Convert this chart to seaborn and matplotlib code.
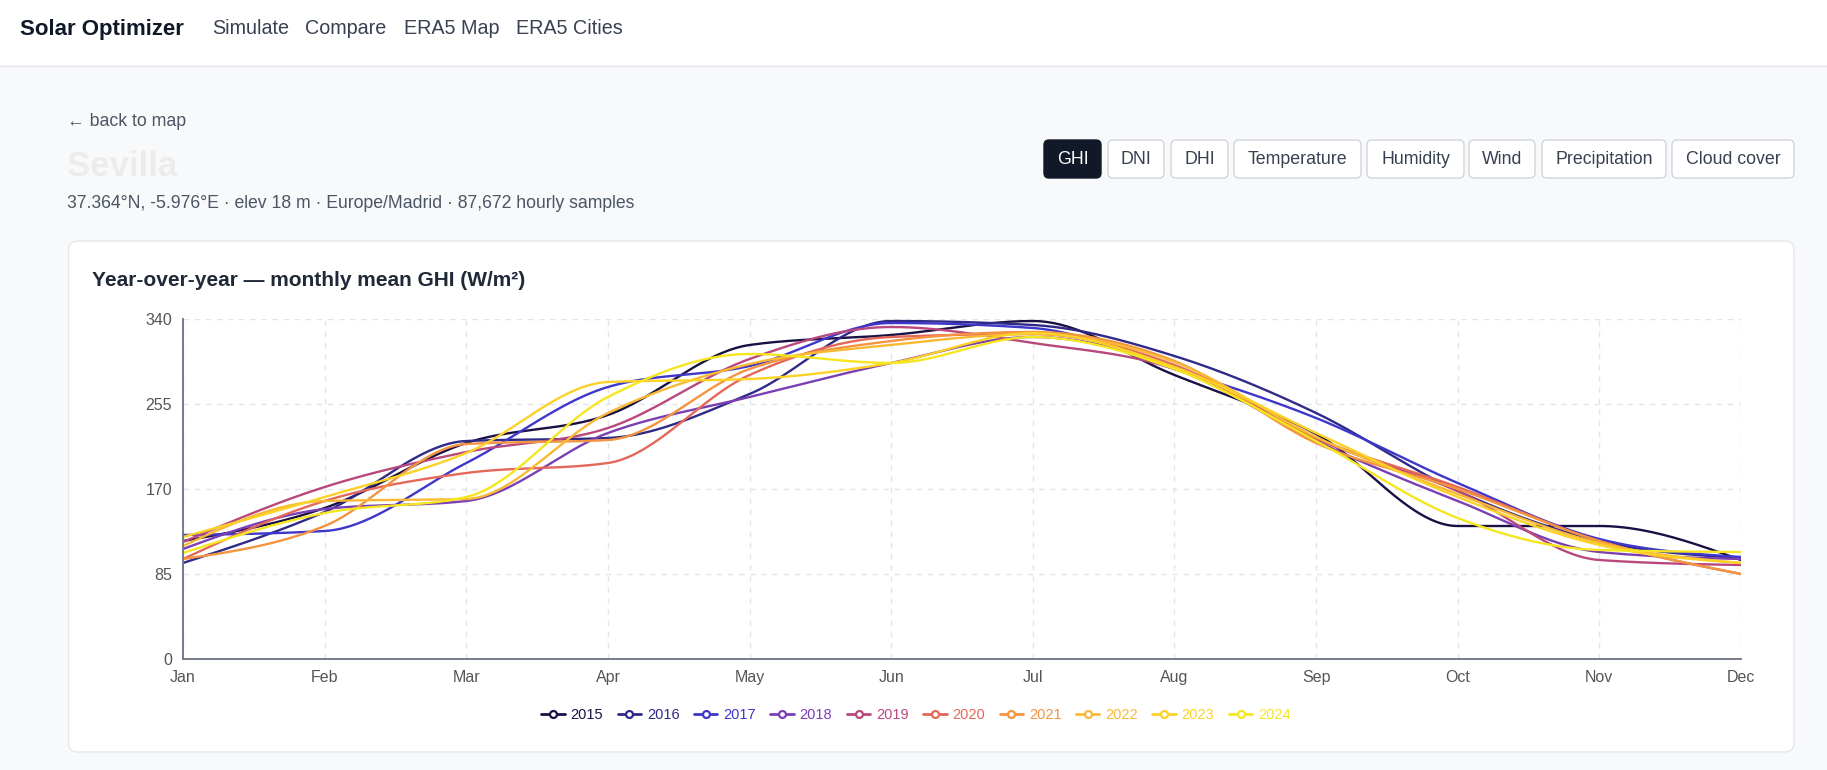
import numpy as np
import pandas as pd
import matplotlib
matplotlib.use("Agg")
import matplotlib.pyplot as plt
import matplotlib.transforms as mtransforms
from matplotlib.patches import FancyBboxPatch, Rectangle
from matplotlib.lines import Line2D
import seaborn as sns

months = ['Jan', 'Feb', 'Mar', 'Apr', 'May', 'Jun', 'Jul', 'Aug', 'Sep', 'Oct', 'Nov', 'Dec']
years = ['2015', '2016', '2017', '2018', '2019', '2020', '2021', '2022', '2023', '2024']

# monthly mean GHI (W/m²)
ghi_2015 = [118, 151, 216, 244, 314, 324, 338, 284, 225, 133, 133, 99]
ghi_2016 = [96, 147, 218, 221, 265, 338, 334, 303, 246, 168, 118, 101]
ghi_2017 = [124, 128, 196, 272, 293, 336, 331, 290, 241, 176, 120, 102]
ghi_2018 = [110, 150, 158, 226, 262, 296, 322, 292, 218, 158, 107, 100]
ghi_2019 = [117, 172, 207, 231, 300, 332, 316, 290, 220, 168, 99, 94]
ghi_2020 = [100, 158, 186, 196, 284, 322, 325, 294, 221, 172, 118, 85]
ghi_2021 = [100, 133, 215, 219, 290, 318, 327, 298, 216, 170, 118, 85]
ghi_2022 = [113, 158, 160, 246, 295, 314, 325, 297, 222, 165, 116, 96]
ghi_2023 = [122, 162, 206, 277, 280, 296, 326, 292, 226, 162, 114, 96]
ghi_2024 = [106, 146, 162, 262, 305, 296, 322, 290, 218, 141, 109, 107]

colors = ['#1b1044', '#2f2a88', '#3f37c9', '#7b3fb4', '#b9487e',
          '#e4685a', '#f39440', '#f9b934', '#fcd226', '#f5e61f']

y_ticks = [0, 85, 170, 255, 340]
tabs = ['GHI', 'DNI', 'DHI', 'Temperature', 'Humidity', 'Wind', 'Precipitation', 'Cloud cover']
tab_x = [(1044, 1101), (1108, 1164), (1171, 1228), (1234, 1361),
         (1367, 1464), (1469, 1535), (1542, 1666), (1672, 1794)]

series = dict(zip(years, [ghi_2015, ghi_2016, ghi_2017, ghi_2018, ghi_2019,
                          ghi_2020, ghi_2021, ghi_2022, ghi_2023, ghi_2024]))


def monotone_curve(y, n=40):
    # monotone cubic (like d3 curveMonotoneX) so the line looks like the web chart
    y = np.asarray(y, dtype=float)
    s = np.diff(y)
    m = np.zeros_like(y)
    for i in range(1, len(y) - 1):
        p = (s[i - 1] + s[i]) / 2
        m[i] = (np.sign(s[i - 1]) + np.sign(s[i])) * min(abs(s[i - 1]), abs(s[i]), 0.5 * abs(p))
    m[0] = (3 * s[0] - m[1]) / 2
    m[-1] = (3 * s[-1] - m[-2]) / 2
    xs, ys = [], []
    for i in range(len(y) - 1):
        t = np.linspace(0, 1, n, endpoint=False)
        h00 = 2 * t**3 - 3 * t**2 + 1
        h10 = t**3 - 2 * t**2 + t
        h01 = -2 * t**3 + 3 * t**2
        h11 = t**3 - t**2
        xs.append(i + t)
        ys.append(h00 * y[i] + h10 * m[i] + h01 * y[i + 1] + h11 * m[i + 1])
    xs.append([len(y) - 1])
    ys.append([y[-1]])
    return np.concatenate(xs), np.concatenate(ys)


rows = []
for yr, vals in series.items():
    cx, cy = monotone_curve(vals)
    rows.append(pd.DataFrame({'x': cx, 'ghi': cy, 'year': yr}))
df = pd.concat(rows, ignore_index=True)

sns.set_style('white')
plt.rcParams['font.family'] = ['Liberation Sans', 'DejaVu Sans']

W, H = 1827, 770
fig = plt.figure(figsize=(W / 100, H / 100), dpi=100)
fig.patch.set_facecolor('#f8f9fb')
px = mtransforms.Affine2D().scale(1 / W, 1 / H) + fig.transFigure


def box(x0, y0, x1, y1, fc, ec, r=0, lw=1.0):
    # pixel coordinates measured from the top-left
    p = FancyBboxPatch((x0, H - y1), x1 - x0, y1 - y0,
                       boxstyle=f'round,pad=0,rounding_size={r}' if r else 'square,pad=0',
                       transform=px, facecolor=fc, edgecolor=ec, linewidth=lw, zorder=0)
    fig.patches.append(p)


def text(x, y, s, **kw):
    fig.text(x, H - y, s, transform=px, **kw)


# top navigation
fig.patches.append(Rectangle((0, H - 65), W, 65, transform=px, facecolor='white',
                             edgecolor='none', zorder=0))
fig.lines.append(Line2D([0, W], [H - 65.5, H - 65.5], transform=px, color='#e5e7eb', lw=1))
text(20, 29, 'Solar Optimizer', fontsize=16, fontweight='bold', color='#111827', va='center')
for label, x in zip(['Simulate', 'Compare', 'ERA5 Map', 'ERA5 Cities'], [212, 305, 404, 516]):
    text(x, 29, label, fontsize=14.2, color='#374151', va='center')

# page header
text(67, 121, '← back to map', fontsize=12.8, color='#4b5563', va='center')
text(67, 166, 'Sevilla', fontsize=25, fontweight='bold', color='#ececec', va='center')
text(67, 203, '37.364°N, -5.976°E · elev 18 m · Europe/Madrid · 87,672 hourly samples',
     fontsize=12.7, color='#4b5563', va='center')

for label, (x0, x1) in zip(tabs, tab_x):
    active = label == 'GHI'
    box(x0, 140, x1, 178, '#111827' if active else 'white',
        '#111827' if active else '#d1d5db', r=5)
    text((x0 + x1) / 2, 159, label, fontsize=12.8, ha='center', va='center',
         color='white' if active else '#374151')

# chart card
box(68.5, 241, 1794, 752, 'white', '#e5e7eb', r=9)
text(92, 281, 'Year-over-year — monthly mean GHI (W/m²)', fontsize=15,
     fontweight='bold', color='#1f2937', va='center')

ax = fig.add_axes([183 / W, 1 - 659 / H, (1741 - 183) / W, 340 / H])
ax.set_zorder(2)
ax.set_facecolor('white')
palette = dict(zip(years, colors))
sns.lineplot(data=df, x='x', y='ghi', hue='year', palette=palette, ax=ax,
             legend=False, linewidth=1.7, estimator=None, sort=False)

ax.set_xlim(0, 11)
ax.set_ylim(0, 340)
ax.set_xticks(range(12))
ax.set_xticklabels(months)
ax.set_yticks(y_ticks)
ax.set_xlabel('')
ax.set_ylabel('')
ax.set_axisbelow(True)
ax.grid(True, linestyle=(0, (4, 4)), color='#e3e5e9', linewidth=1)
for side in ['top', 'right']:
    ax.spines[side].set_visible(False)
for side in ['left', 'bottom']:
    ax.spines[side].set_color('#6b7280')
    ax.spines[side].set_linewidth(1.3)
ax.tick_params(axis='both', direction='out', length=5, width=1.2, color='#6b7280',
               labelcolor='#555555', labelsize=11.5, pad=3)

handles = [Line2D([], [], color=c, lw=2, marker='o', markersize=5,
                  markerfacecolor='white', markeredgecolor=c, markeredgewidth=1.6)
           for c in colors]
fig.legend(handles, years, loc='center', bbox_to_anchor=(916 / W, 1 - 715 / H),
           ncol=10, frameon=False, fontsize=10.5, handlelength=1.6,
           handletextpad=0.4, columnspacing=1.0, labelcolor=colors)

fig.savefig('out.png', dpi=100, facecolor=fig.get_facecolor())
